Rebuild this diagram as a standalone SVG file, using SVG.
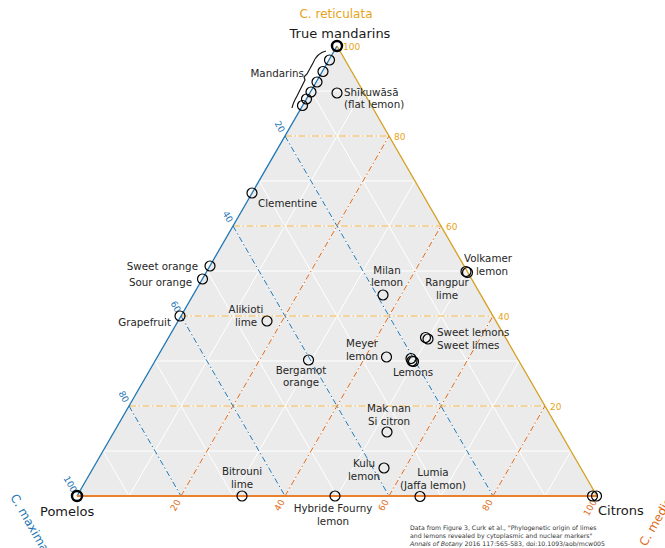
<svg xmlns="http://www.w3.org/2000/svg" width="665" height="548" viewBox="0 0 665 548">
<style>
text{font-family:"DejaVu Sans",sans-serif;}
.lbl{font-size:10.3px;fill:#262626;}
.big{font-size:13px;fill:#1a1a1a;}
.pt{fill:none;stroke:#000;stroke-width:1.2;}
.ptb{fill:none;stroke:#000;stroke-width:2.4;}
.grid{stroke:#fff;stroke-width:1;fill:none;}
.dr{stroke:#f0b444;stroke-width:1.2;stroke-dasharray:7,2.5,1.5,2.5;fill:none;}
.dm{stroke:#1f77b4;stroke-width:1;stroke-dasharray:6,2.5,1.5,2.5;fill:none;}
.dd{stroke:#e06a18;stroke-width:1;stroke-dasharray:6,2.5,1.5,2.5;fill:none;}
.tr{font-size:9px;fill:#e8a317;}
.tm{font-size:9px;fill:#1f77b4;text-anchor:end;}
.td{font-size:9px;fill:#e06a18;text-anchor:end;}
.foot{font-size:6.2px;fill:#333;}
</style>
<rect width="665" height="548" fill="#fff"/>
<g id="axes">
<polygon points="337,46 77,496 597,496" fill="#ebebeb"/>
<g class="grid">
<path d="M103,451H571M129,406H545M155,361H519M181,316H493M207,271H467M233,226H441M259,181H415M285,136H389M311,91H363"/>
<path d="M311,91L545,496M285,136L493,496M259,181L441,496M233,226L389,496M207,271L337,496M181,316L285,496M155,361L233,496M129,406L181,496M103,451L129,496"/>
<path d="M129,496L363,91M181,496L389,136M233,496L415,181M285,496L441,226M337,496L467,271M389,496L493,316M441,496L519,361M493,496L545,406M545,496L571,451"/>
</g>
<path class="dr" d="M129,406H545M181,316H493M233,226H441M285,136H389"/>
<path class="dm" d="M285,136L493,496M233,226L389,496M181,316L285,496M129,406L181,496"/>
<path class="dd" d="M181,496L389,136M285,496L441,226M389,496L493,316M493,496L545,406"/>
<line x1="77" y1="496" x2="337" y2="46" stroke="#1f77b4" stroke-width="1.3"/>
<line x1="337" y1="46" x2="597" y2="496" stroke="#d4a020" stroke-width="1.3"/>
<line x1="77" y1="496" x2="597" y2="496" stroke="#e8802e" stroke-width="2"/>
<text class="tr" x="343" y="49.5">100</text>
<text class="tr" x="394" y="139.5">80</text>
<text class="tr" x="446" y="229.5">60</text>
<text class="tr" x="498" y="319.5">40</text>
<text class="tr" x="550" y="409.5">20</text>
<text class="tm" transform="translate(282.5,131.7) rotate(60)" dy="3">20</text>
<text class="tm" transform="translate(230.5,221.7) rotate(60)" dy="3">40</text>
<text class="tm" transform="translate(178.5,311.7) rotate(60)" dy="3">60</text>
<text class="tm" transform="translate(126.5,401.7) rotate(60)" dy="3">80</text>
<text class="tm" transform="translate(74.5,491.7) rotate(60)" dy="3">100</text>
<text class="td" transform="translate(178.5,500.3) rotate(-60)" dy="3">20</text>
<text class="td" transform="translate(282.5,500.3) rotate(-60)" dy="3">40</text>
<text class="td" transform="translate(386.5,500.3) rotate(-60)" dy="3">60</text>
<text class="td" transform="translate(490.5,500.3) rotate(-60)" dy="3">80</text>
<text class="td" transform="translate(594.5,500.3) rotate(-60)" dy="3">100</text>
<text x="336" y="18" font-size="12" fill="#e8a317" text-anchor="middle">C. reticulata</text>
<text transform="translate(10,497) rotate(60)" font-size="12" fill="#1f77b4">C. maxima</text>
<text transform="translate(646,547) rotate(-60)" font-size="12" fill="#e06a18">C. medica</text>
</g>
<g id="connectors">
<path d="M326,51 Q317,53 313,63 L307,74 L304,77 L305,80 L297,96 Q293,103 292,108" fill="none" stroke="#1a1a1a" stroke-width="1.2"/>
</g>
<g id="true-mandarins">
<circle class="ptb" cx="337" cy="46" r="5"/>
<text class="big" x="340" y="38" text-anchor="middle">True mandarins</text>
</g>
<g id="mandarins">
<circle class="pt" cx="329.5" cy="60" r="5"/>
<circle class="pt" cx="323" cy="71.5" r="5"/>
<circle class="pt" cx="317" cy="82" r="5"/>
<circle class="pt" cx="311" cy="92" r="5"/>
<circle class="pt" cx="306.5" cy="99" r="5"/>
<circle class="pt" cx="302.5" cy="105.5" r="5"/>
<text class="lbl" x="304" y="77" text-anchor="end">Mandarins</text>
</g>
<g id="shikuwasa">
<circle class="pt" cx="337" cy="93" r="5"/>
<text class="lbl" x="344" y="96">Shīkuwāsā</text>
<text class="lbl" x="344" y="108">(flat lemon)</text>
</g>
<g id="clementine">
<circle class="pt" cx="252" cy="193" r="5"/>
<text class="lbl" x="258" y="207">Clementine</text>
</g>
<g id="sweet-orange">
<circle class="pt" cx="210" cy="266" r="5"/>
<text class="lbl" x="198" y="270" text-anchor="end">Sweet orange</text>
</g>
<g id="sour-orange">
<circle class="pt" cx="202.5" cy="279" r="5"/>
<text class="lbl" x="192" y="286" text-anchor="end">Sour orange</text>
</g>
<g id="grapefruit">
<circle class="pt" cx="180" cy="316" r="5"/>
<text class="lbl" x="171" y="326" text-anchor="end">Grapefruit</text>
</g>
<g id="alikioti">
<circle class="pt" cx="267" cy="321" r="5"/>
<text class="lbl" x="246" y="313" text-anchor="middle">Alikioti</text>
<text class="lbl" x="246" y="326" text-anchor="middle">lime</text>
</g>
<g id="bergamot">
<circle class="pt" cx="308.5" cy="360" r="5"/>
<text class="lbl" x="301" y="374" text-anchor="middle">Bergamot</text>
<text class="lbl" x="301" y="386" text-anchor="middle">orange</text>
</g>
<g id="milan">
<circle class="pt" cx="383" cy="295" r="5"/>
<text class="lbl" x="387" y="274" text-anchor="middle">Milan</text>
<text class="lbl" x="387" y="286" text-anchor="middle">lemon</text>
</g>
<g id="rangpur">
<text class="lbl" x="447" y="286" text-anchor="middle">Rangpur</text>
<text class="lbl" x="447" y="299" text-anchor="middle">lime</text>
</g>
<g id="volkamer">
<circle class="pt" cx="466" cy="271.5" r="5"/>
<circle class="pt" cx="467.5" cy="272.5" r="5"/>
<text class="lbl" x="488" y="262" text-anchor="middle">Volkamer</text>
<text class="lbl" x="492" y="275" text-anchor="middle">lemon</text>
</g>
<g id="sweet-lemons">
<circle class="pt" cx="425.5" cy="337.5" r="5"/>
<circle class="pt" cx="428" cy="339" r="5"/>
<text class="lbl" x="437" y="336">Sweet lemons</text>
<text class="lbl" x="437" y="349">Sweet limes</text>
</g>
<g id="meyer">
<circle class="pt" cx="386.5" cy="357" r="5"/>
<text class="lbl" x="362" y="347" text-anchor="middle">Meyer</text>
<text class="lbl" x="362" y="360" text-anchor="middle">lemon</text>
</g>
<g id="lemons">
<circle class="pt" cx="411" cy="358.5" r="5"/>
<circle class="pt" cx="412" cy="361" r="5"/>
<circle class="pt" cx="413.5" cy="361.5" r="5"/>
<text class="lbl" x="413" y="376" text-anchor="middle">Lemons</text>
</g>
<g id="mak-nan">
<circle class="pt" cx="387" cy="432" r="5"/>
<text class="lbl" x="389" y="412" text-anchor="middle">Mak nan</text>
<text class="lbl" x="389" y="425" text-anchor="middle">Si citron</text>
</g>
<g id="kulu">
<circle class="pt" cx="384" cy="468" r="5"/>
<text class="lbl" x="364" y="467" text-anchor="middle">Kulu</text>
<text class="lbl" x="364" y="480" text-anchor="middle">lemon</text>
</g>
<g id="lumia">
<circle class="pt" cx="420" cy="496.5" r="5"/>
<text class="lbl" x="433" y="476" text-anchor="middle">Lumia</text>
<text class="lbl" x="433" y="489" text-anchor="middle">(Jaffa lemon)</text>
</g>
<g id="bitrouni">
<circle class="pt" cx="242" cy="496" r="5"/>
<text class="lbl" x="242" y="475" text-anchor="middle">Bitrouni</text>
<text class="lbl" x="242" y="488" text-anchor="middle">lime</text>
</g>
<g id="hybride-fourny">
<circle class="pt" cx="335" cy="496" r="5"/>
<text class="lbl" x="333" y="512" text-anchor="middle">Hybride Fourny</text>
<text class="lbl" x="333" y="525" text-anchor="middle">lemon</text>
</g>
<g id="pomelos">
<circle class="ptb" cx="77" cy="496" r="5"/>
<text class="big" x="40" y="516">Pomelos</text>
</g>
<g id="citrons">
<circle class="pt" cx="592.5" cy="496" r="5"/>
<circle class="pt" cx="596.5" cy="496" r="5"/>
<text class="big" x="598" y="515">Citrons</text>
</g>
<g id="footnote">
<text class="foot" x="410" y="530">Data from Figure 3, Curk et al., "Phylogenetic origin of limes</text>
<text class="foot" x="410" y="538">and lemons revealed by cytoplasmic and nuclear markers"</text>
<text class="foot" x="410" y="546"><tspan font-style="italic">Annals of Botany</tspan> 2016 117:565-583,  doi:10.1093/aob/mcw005</text>
</g>
</svg>
